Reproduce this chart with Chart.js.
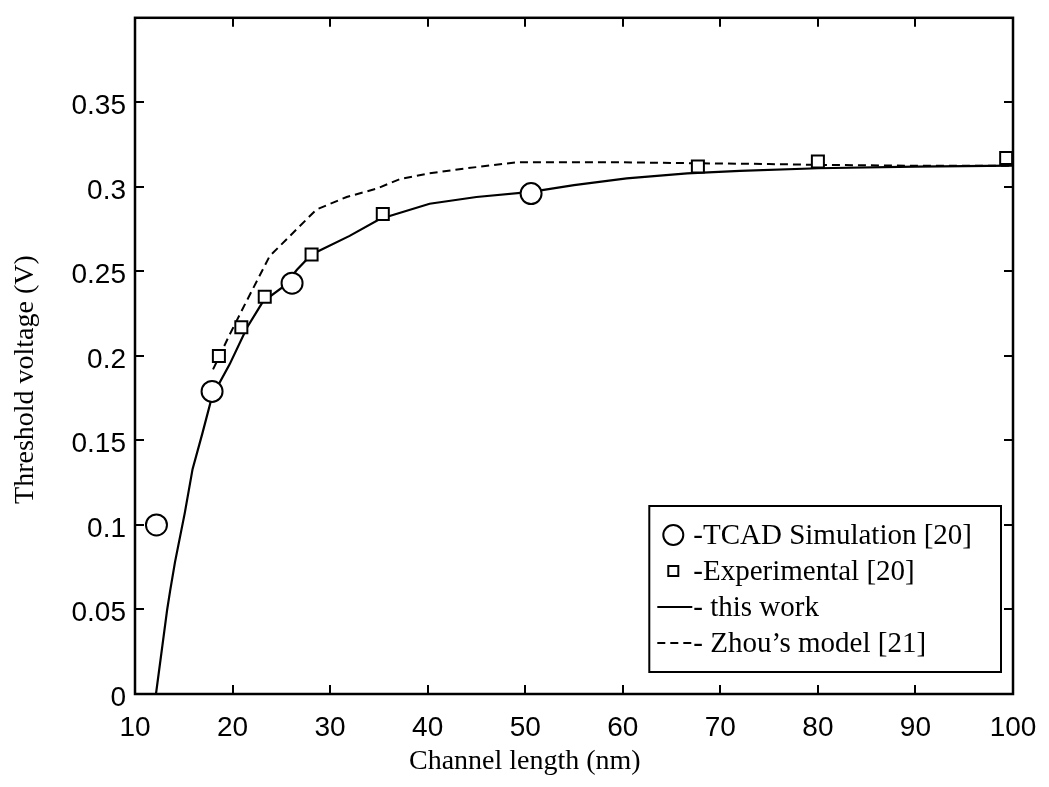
<!DOCTYPE html>
<html>
<head>
<meta charset="utf-8">
<title>Threshold voltage vs channel length</title>
<script src="https://cdn.jsdelivr.net/npm/chart.js@4.4.1/dist/chart.umd.min.js"></script>
<style>
  html, body { margin: 0; padding: 0; background: #fff; }
  #wrap { width: 1049px; height: 787px; }
</style>
</head>
<body>
<div id="wrap"><canvas id="vthChart" width="1049" height="787"></canvas></div>
<script>
// values
const xTicks = [10, 20, 30, 40, 50, 60, 70, 80, 90, 100];
const yTickLabels = ['0', '0.05', '0.1', '0.15', '0.2', '0.25', '0.3', '0.35', ''];

// TCAD simulation [20] (circles)
const tcadX = [12.2, 17.9, 26.1, 50.6];
const tcadY = [0.100, 0.179, 0.243, 0.296];

// Experimental [20] (squares)
const expX = [18.6, 20.9, 23.3, 28.1, 35.4, 67.7, 80.0, 99.3];
const expY = [0.200, 0.217, 0.235, 0.260, 0.284, 0.312, 0.315, 0.317];

// this work (solid)
const workX = [12.15, 13.3, 13.6, 14.1, 15.1, 15.9, 16.9, 17.9, 19.7, 21.5, 23.1, 25.2, 26.6, 28.1, 32.0, 35.1, 40.2, 45.0, 50.6, 55.0, 60.4, 66.6, 72.0, 80.0, 90.0, 100];
const workY = [0, 0.050, 0.061, 0.078, 0.107, 0.133, 0.154, 0.176, 0.195, 0.217, 0.232, 0.241, 0.251, 0.260, 0.271, 0.281, 0.290, 0.294, 0.297, 0.301, 0.305, 0.308, 0.3095, 0.311, 0.312, 0.3125];

// Zhou's model [21] (dashed)
const zhouX = [18.0, 19.7, 21.4, 23.8, 28.6, 31.7, 34.8, 37.2, 40.2, 44.0, 49.1, 60.0, 67.0, 75.0, 80.0, 90.0, 100];
const zhouY = [0.192, 0.2126, 0.232, 0.259, 0.2866, 0.294, 0.299, 0.3047, 0.308, 0.311, 0.3145, 0.3145, 0.314, 0.3135, 0.313, 0.3125, 0.3125];

const legendLabels = ['-TCAD Simulation [20]', '-Experimental [20]', '- this work', '- Zhou\u2019s model [21]'];

function toPoints(xs, ys) {
    return xs.map((x, i) => ({ x: x, y: ys[i] }));
}

const serif = '"Liberation Serif", "Times New Roman", serif';
const sans = '"Liberation Sans", Arial, Helvetica, sans-serif';

// inward ticks, closed box, axis titles and the boxed legend (matlab look)
const matlabFrame = {
    id: 'matlabFrame',
    afterDatasetsDraw(chart) {
        const { ctx, chartArea: a, scales } = chart;
        ctx.save();
        ctx.strokeStyle = '#000';
        ctx.lineWidth = 2;
        const len = 9;
        scales.x.ticks.forEach(t => {
            const px = Math.round(scales.x.getPixelForValue(t.value));
            if (px <= a.left + 1 || px >= a.right - 1) return;
            ctx.beginPath();
            ctx.moveTo(px, a.bottom); ctx.lineTo(px, a.bottom - len);
            ctx.moveTo(px, a.top); ctx.lineTo(px, a.top + len);
            ctx.stroke();
        });
        scales.y.ticks.forEach(t => {
            const py = Math.round(scales.y.getPixelForValue(t.value));
            if (py <= a.top + 1 || py >= a.bottom - 1) return;
            ctx.beginPath();
            ctx.moveTo(a.left, py); ctx.lineTo(a.left + len, py);
            ctx.moveTo(a.right, py); ctx.lineTo(a.right - len, py);
            ctx.stroke();
        });
        ctx.lineWidth = 2.5;
        ctx.strokeRect(a.left, a.top, a.right - a.left, a.bottom - a.top);
        ctx.restore();
    },
    afterDraw(chart) {
        const { ctx, chartArea: a } = chart;
        ctx.save();
        ctx.fillStyle = '#000';

        // axis titles
        ctx.font = '28px ' + serif;
        ctx.textAlign = 'center';
        ctx.textBaseline = 'middle';
        ctx.fillText('Channel length (nm)', a.left + (a.right - a.left) * 0.444, 762);
        ctx.save();
        ctx.translate(26, a.top + (a.bottom - a.top) * 0.535);
        ctx.rotate(-Math.PI / 2);
        ctx.fillText('Threshold voltage (V)', 0, 0);
        ctx.restore();

        // legend
        ctx.font = '29px ' + serif;
        const rowH = 36;
        const maxW = Math.max(...legendLabels.map(s => ctx.measureText(s).width));
        const right = a.right - 12;
        const bottom = a.bottom - 22;
        const top = bottom - rowH * 4 - 22;
        const textX = right - 29 - maxW;
        const left = textX - 44;
        ctx.fillStyle = '#fff';
        ctx.fillRect(left, top, right - left, bottom - top);
        ctx.strokeStyle = '#000';
        ctx.lineWidth = 2;
        ctx.strokeRect(left, top, right - left, bottom - top);

        ctx.textAlign = 'left';
        ctx.textBaseline = 'middle';
        chart.data.datasets.forEach((ds, i) => {
            const cy = top + 11 + rowH * (i + 0.5);
            const cx = textX - 20;
            ctx.strokeStyle = '#000';
            ctx.lineWidth = 2;
            if (ds.pointStyle === 'circle' && !ds.showLine) {
                ctx.beginPath();
                ctx.arc(cx, cy, 10, 0, Math.PI * 2);
                ctx.stroke();
            } else if (ds.pointStyle === 'rect' && !ds.showLine) {
                ctx.strokeRect(cx - 5, cy - 5, 10, 10);
            } else {
                ctx.setLineDash(ds.borderDash || []);
                ctx.beginPath();
                ctx.moveTo(textX - 36, cy);
                ctx.lineTo(textX - 1, cy);
                ctx.stroke();
                ctx.setLineDash([]);
            }
            ctx.fillStyle = '#000';
            ctx.fillText(ds.label, textX, cy + 1);
        });
        ctx.restore();
    }
};

const ctx = document.getElementById('vthChart').getContext('2d');
new Chart(ctx, {
    type: 'scatter',
    data: {
        datasets: [
            {
                label: legendLabels[0],
                data: toPoints(tcadX, tcadY),
                showLine: false,
                pointStyle: 'circle',
                pointRadius: 10.5,
                pointBorderWidth: 2,
                pointBorderColor: '#000',
                pointBackgroundColor: '#fff'
            },
            {
                label: legendLabels[1],
                data: toPoints(expX, expY),
                showLine: false,
                pointStyle: 'rect',
                pointRadius: 8.5,
                pointBorderWidth: 2,
                pointBorderColor: '#000',
                pointBackgroundColor: '#fff'
            },
            {
                label: legendLabels[2],
                data: toPoints(workX, workY),
                showLine: true,
                borderColor: '#000',
                borderWidth: 2.2,
                pointRadius: 0,
                tension: 0
            },
            {
                label: legendLabels[3],
                data: toPoints(zhouX, zhouY),
                showLine: true,
                borderColor: '#000',
                borderWidth: 2,
                borderDash: [8, 5],
                pointRadius: 0,
                tension: 0
            }
        ]
    },
    options: {
        responsive: false,
        animation: false,
        layout: { padding: { left: 0, top: 10, right: 36, bottom: 0 } },
        plugins: {
            legend: { display: false },
            tooltip: { enabled: false }
        },
        scales: {
            x: {
                type: 'linear',
                min: 10,
                max: 100,
                afterFit: s => { s.height = 93; },
                afterBuildTicks: s => { s.ticks = xTicks.map(v => ({ value: v })); },
                grid: { display: false },
                border: { display: false },
                ticks: {
                    padding: 9,
                    color: '#000',
                    font: { family: sans, size: 28 },
                    maxRotation: 0,
                    callback: v => String(v)
                }
            },
            y: {
                type: 'linear',
                min: 0,
                max: 0.4,
                afterFit: s => { s.width = 135; },
                grid: { display: false },
                border: { display: false },
                ticks: {
                    stepSize: 0.05,
                    padding: 1,
                    labelOffset: 4,
                    color: '#000',
                    font: { family: sans, size: 28 },
                    callback: (v, i) => yTickLabels[i]
                }
            }
        }
    },
    plugins: [matlabFrame]
});
</script>
</body>
</html>
